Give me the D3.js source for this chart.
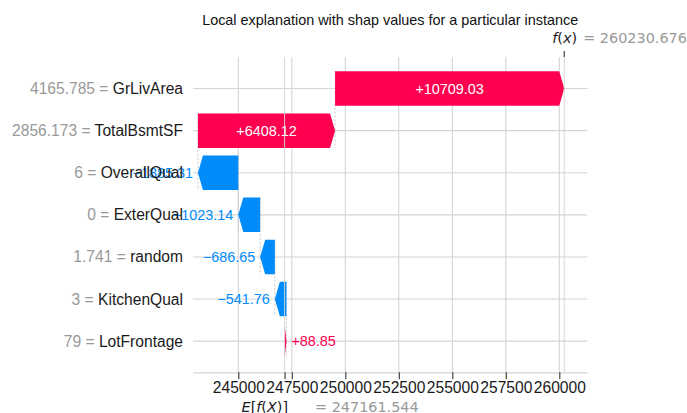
<!DOCTYPE html>
<html>
<head>
<meta charset="utf-8">
<script src="https://cdn.jsdelivr.net/npm/d3@7"></script>
<style>
  body { margin: 0; background: #fff; }
  svg { display: block; }
</style>
</head>
<body>
<div id="chart"></div>
<script>
// data (top row first)
const title = "Local explanation with shap values for a particular instance";
const features = ["GrLivArea", "TotalBsmtSF", "OverallQual", "ExterQual", "random", "KitchenQual", "LotFrontage"];
const featureValues = ["4165.785", "2856.173", "6", "0", "1.741", "3", "79"];
const shapValues = [10709.03, 6408.12, -1885.31, -1023.14, -686.65, -541.76, 88.85];
const baseValue = 247161.544;
const fxValue = 260230.676;
const tickValues = [245000, 247500, 250000, 252500, 255000, 257500, 260000];

const width = 687;
const height = 413;
const plot = { left: 193, right: 587.3, top: 57, bottom: 372.3 };

const red = "#ff0051";
const blue = "#008bfb";
const gridColor = "#d4d4d4";
const sans = "'Liberation Sans', Arial, Helvetica, sans-serif";
const mathFont = "'DejaVu Sans', sans-serif";

const fmt = (v) => (v < 0 ? "\u2212" : "+") + Math.abs(v).toFixed(2);

// build waterfall rows from the bottom (base value) up
const n = features.length;
let running = baseValue;
const rows = [];
for (let i = n - 1; i >= 0; i--) {
  const start = running;
  const end = running + shapValues[i];
  rows.push({ name: features[i], fval: featureValues[i], value: shapValues[i], start, end, idx: n - 1 - i });
  running = end;
}

const x = d3.scaleLinear().domain([242883, 261308]).range([plot.left, plot.right]);
const y = d3.scaleLinear().domain([-0.74, 6.75]).range([plot.bottom, plot.top]);
const halfBar = 0.41;
const headLen = 5;

const svg = d3.select("#chart").append("svg")
  .attr("width", width)
  .attr("height", height)
  .attr("viewBox", [0, 0, width, height]);

// grid
const grid = svg.append("g");
grid.selectAll("line.v")
  .data(tickValues)
  .join("line")
  .attr("x1", (d) => x(d)).attr("x2", (d) => x(d))
  .attr("y1", plot.top).attr("y2", plot.bottom)
  .attr("stroke", gridColor).attr("stroke-width", 1.1);
grid.selectAll("line.h")
  .data(rows)
  .join("line")
  .attr("x1", plot.left).attr("x2", plot.right)
  .attr("y1", (d) => y(d.idx)).attr("y2", (d) => y(d.idx))
  .attr("stroke", gridColor).attr("stroke-width", 1.1);

// dashed connectors between bars
svg.append("g")
  .selectAll("line")
  .data(rows.filter((d) => d.idx > 0))
  .join("line")
  .attr("x1", (d) => x(d.start)).attr("x2", (d) => x(d.start))
  .attr("y1", (d) => y(d.idx + halfBar)).attr("y2", (d) => y(d.idx - 1 - halfBar))
  .attr("stroke", "#bbbbbb").attr("stroke-width", 0.7)
  .attr("stroke-dasharray", "2.5,1.5");

// bars as arrows
function arrowPath(d) {
  const x0 = x(d.start), x1 = x(d.end);
  const dir = x1 >= x0 ? 1 : -1;
  const len = Math.abs(x1 - x0);
  const hl = Math.min(len, headLen);
  const yt = y(d.idx + halfBar), yb = y(d.idx - halfBar), yc = y(d.idx);
  const xn = x1 - dir * hl;
  return `M${x0},${yt}L${xn},${yt}L${x1},${yc}L${xn},${yb}L${x0},${yb}Z`;
}
svg.append("g")
  .selectAll("path")
  .data(rows)
  .join("path")
  .attr("d", arrowPath)
  .attr("fill", (d) => (d.value > 0 ? red : blue));

// twin-axis grid lines for E[f(X)] and f(x), drawn over the bars
svg.append("g")
  .selectAll("line")
  .data([baseValue, fxValue])
  .join("line")
  .attr("x1", (d) => x(d)).attr("x2", (d) => x(d))
  .attr("y1", plot.top).attr("y2", plot.bottom)
  .attr("stroke", gridColor).attr("stroke-width", 1.1).attr("opacity", 0.85);

// bar value labels
const labels = svg.append("g")
  .attr("font-family", sans)
  .attr("font-size", 14.4);
labels.selectAll("text")
  .data(rows)
  .join("text")
  .text((d) => fmt(d.value))
  .attr("x", (d) => (x(d.start) + x(d.end)) / 2)
  .attr("y", (d) => y(d.idx))
  .attr("dy", "0.35em")
  .attr("text-anchor", "middle")
  .attr("fill", "#fff")
  .each(function (d) {
    const w = this.getComputedTextLength();
    const barW = Math.abs(x(d.end) - x(d.start));
    if (w + 4 > barW) {
      const sel = d3.select(this);
      if (d.value > 0) {
        sel.attr("x", x(d.end) + 5).attr("text-anchor", "start").attr("fill", red);
      } else {
        sel.attr("x", x(d.end) - 5).attr("text-anchor", "end").attr("fill", blue);
      }
    }
  });

// feature labels
const ylab = svg.append("g")
  .attr("font-family", sans)
  .attr("font-size", 15.6)
  .attr("text-anchor", "end");
const yt = ylab.selectAll("text")
  .data(rows)
  .join("text")
  .attr("x", plot.left - 10)
  .attr("y", (d) => y(d.idx))
  .attr("dy", "0.35em");
yt.append("tspan").attr("fill", "#999999").text((d) => `${d.fval} = `);
yt.append("tspan").attr("fill", "#1a1a1a").text((d) => d.name);

// bottom axis
const axisG = svg.append("g")
  .attr("transform", `translate(0,${plot.bottom})`)
  .call(d3.axisBottom(x).tickValues(tickValues.concat([baseValue])).tickSize(7).tickPadding(3)
    .tickFormat((d) => (tickValues.includes(d) ? d : "")));
axisG.select(".domain").attr("stroke", gridColor).attr("stroke-width", 1.2)
  .attr("d", `M${plot.left},0.5H${plot.right}`);
axisG.selectAll(".tick line").attr("stroke", "#333").attr("stroke-width", 1.1);
axisG.selectAll(".tick text")
  .attr("font-family", sans).attr("font-size", 15.6).attr("fill", "#1a1a1a");

// f(x) tick on top
svg.append("line")
  .attr("x1", x(fxValue)).attr("x2", x(fxValue))
  .attr("y1", plot.top - 6).attr("y2", plot.top)
  .attr("stroke", "#333").attr("stroke-width", 1.1);

function mathLabel(px, py, parts, valueText, eqOffset) {
  const g = svg.append("g").attr("font-family", mathFont).attr("font-size", 14.4);
  const t = g.append("text").attr("x", px).attr("y", py).attr("fill", "#1a1a1a");
  parts.forEach(([s, it]) => t.append("tspan").attr("font-style", it ? "italic" : "normal").text(s));
  g.append("text").attr("x", eqOffset).attr("y", py).attr("fill", "#999999")
    .text("= " + valueText);
}
mathLabel(x(fxValue) - 12, 42.7,
  [["f", true], ["(", false], ["x", true], [")", false]],
  fxValue.toFixed(3), x(fxValue) + 19);
mathLabel(x(baseValue) - 43, 411.5,
  [["E", true], ["[", false], ["f", true], ["(", false], ["X", true], [")]", false]],
  baseValue.toFixed(3), x(baseValue) + 30.5);

// title
svg.append("text")
  .attr("x", (plot.left + plot.right) / 2)
  .attr("y", 24.5)
  .attr("text-anchor", "middle")
  .attr("font-family", sans)
  .attr("font-size", 14.4)
  .attr("fill", "#111")
  .text(title);
</script>
</body>
</html>
